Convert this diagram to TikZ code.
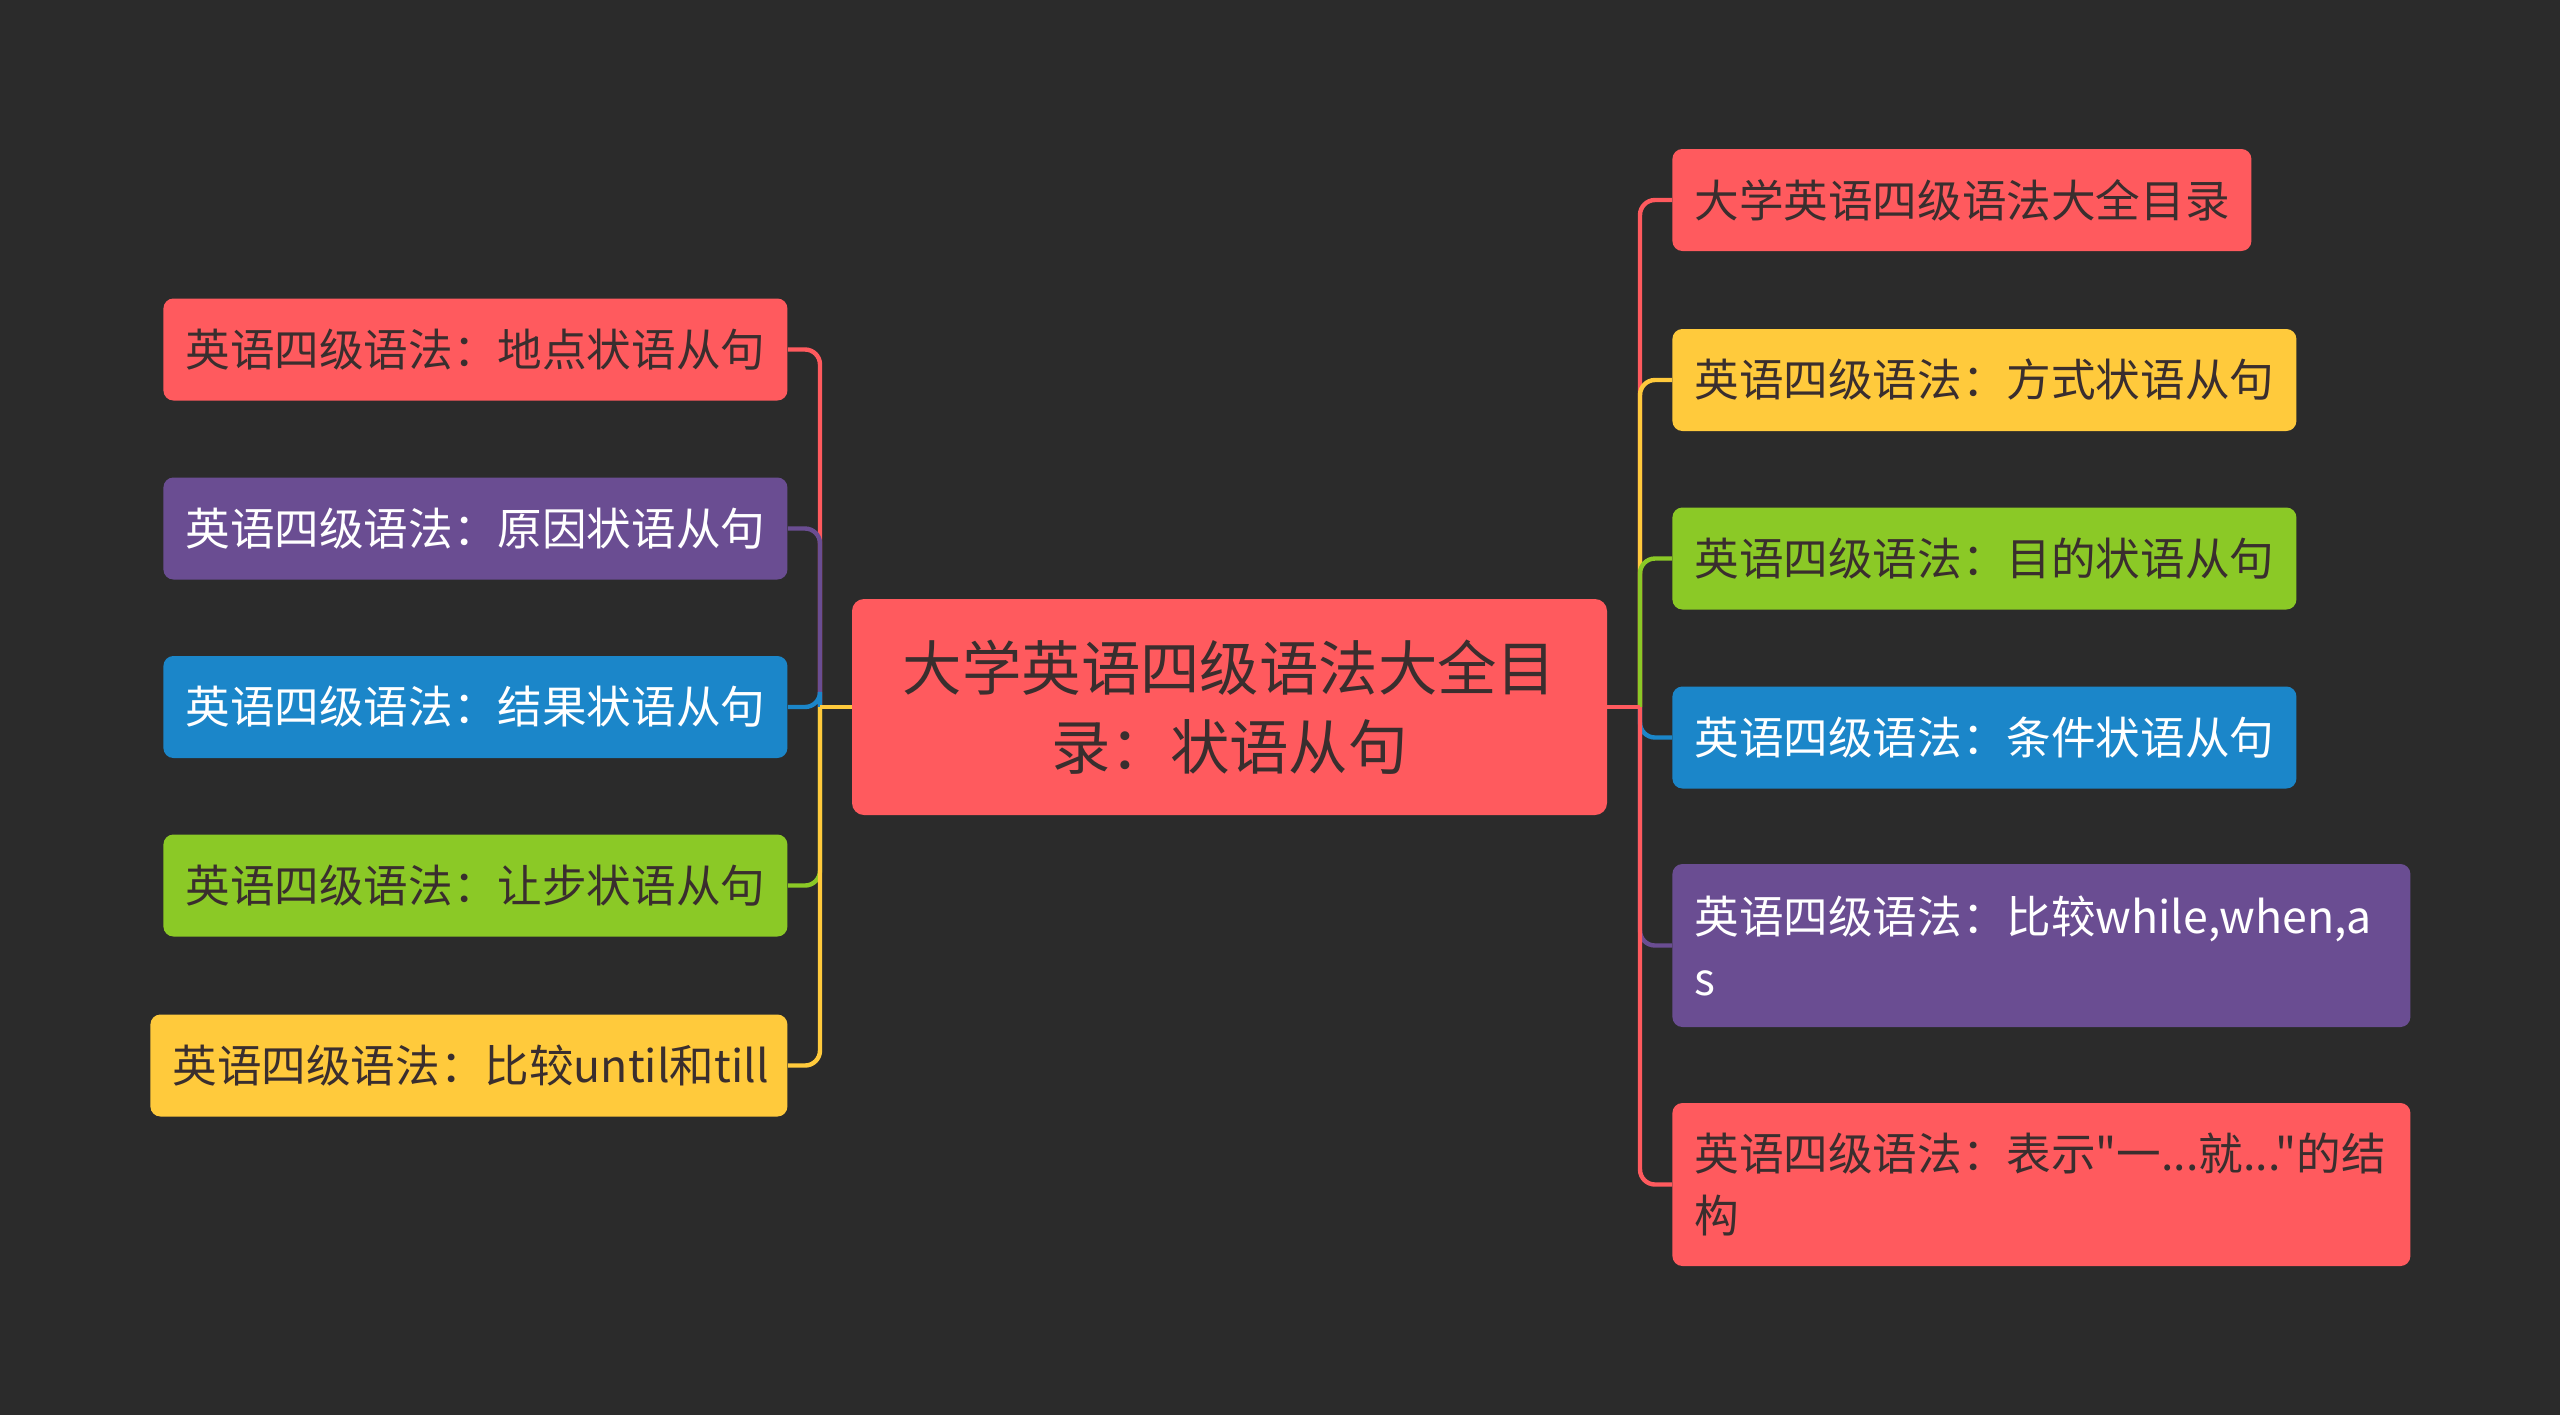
\documentclass[tikz,border=0pt]{standalone}
\usepackage{fontspec}
\newfontfamily\cjkfont{Noto Sans CJK SC}
\definecolor{bg}{HTML}{2B2B2B}
\definecolor{cred}{HTML}{FF5A5E}
\definecolor{cyel}{HTML}{FFCA3C}
\definecolor{cgrn}{HTML}{8BC926}
\definecolor{cblu}{HTML}{1B86C9}
\definecolor{cpur}{HTML}{6A4D92}
\definecolor{dtxt}{HTML}{3A2E2E}
\begin{document}
\begin{tikzpicture}[x=0.5pt,y=-0.5pt,
  box/.style={rounded corners=5pt, anchor=west, inner xsep=11pt, inner ysep=0pt,
    minimum height=51pt, align=left,
    font=\cjkfont\fontsize{22.3pt}{31pt}\selectfont},
  redbox/.style={box, fill=cred, text=dtxt},
  yelbox/.style={box, fill=cyel, text=dtxt},
  grnbox/.style={box, fill=cgrn, text=dtxt},
  blubox/.style={box, fill=cblu, text=white},
  purbox/.style={box, fill=cpur, text=white},
  centerbox/.style={rounded corners=6pt, fill=cred, text=dtxt, inner xsep=20pt, inner ysep=0pt,
    minimum height=108pt, text width=337.5pt, align=center,
    font=\cjkfont\fontsize{29.7pt}{39.5pt}\selectfont},
  conn/.style={line width=2.2pt, rounded corners=7.5pt},
  stub/.style={line width=2.2pt}
]
\fill[bg] (0,0) rectangle (2560,1415);
\useasboundingbox (0,0) rectangle (2560,1415);

% center
\node[centerbox] (C) at (1229.5,707) {大学英语四级语法大全目\\录：状语从句};

% left children
\node[redbox, text width=290pt] (L1) at (163,349.5) {英语四级语法：地点状语从句};
\node[purbox, text width=290pt] (L2) at (163,528.5) {英语四级语法：原因状语从句};
\node[blubox, text width=290pt] (L3) at (163,707) {英语四级语法：结果状语从句};
\node[grnbox, text width=290pt] (L4) at (163,885.5) {英语四级语法：让步状语从句};
\node[yelbox, text width=296.5pt] (L5) at (150,1065.5) {英语四级语法：比较until和till};

% right children
\node[redbox, text width=267.5pt] (R1) at (1672,200) {大学英语四级语法大全目录};
\node[yelbox, text width=290pt] (R2) at (1672,380) {英语四级语法：方式状语从句};
\node[grnbox, text width=290pt] (R3) at (1672,558.5) {英语四级语法：目的状语从句};
\node[blubox, text width=290pt] (R4) at (1672,737.5) {英语四级语法：条件状语从句};
\node[purbox, text width=347pt, minimum height=81.5pt] (R5) at (1672,945.5) {英语四级语法：比较while,when,a\\s};
\node[redbox, text width=347pt, minimum height=81.5pt] (R6) at (1672,1184.5) {英语四级语法：表示"一...就..."的结\\构};

% bus points
\coordinate (busL) at (820,707);
\coordinate (busR) at (1640,707);

% left connectors
\draw[conn, cred] (L1.east) -| (busL);
\draw[conn, cpur] (L2.east) -| (busL);
\draw[conn, cblu] (L3.east) -| (busL);
\draw[conn, cgrn] (L4.east) -| (busL);
\draw[conn, cyel] (L5.east) -| (busL);
\draw[stub, cyel] (busL) -- (C.west);

% right connectors
\draw[conn, cred] (busR) |- (R1.west);
\draw[conn, cyel] (busR) |- (R2.west);
\draw[conn, cgrn] (busR) |- (R3.west);
\draw[conn, cblu] (busR) |- (R4.west);
\draw[conn, cpur] (busR) |- (R5.west);
\draw[conn, cred] (busR) |- (R6.west);
\draw[stub, cred] (C.east) -- (busR);
\end{tikzpicture}
\end{document}
